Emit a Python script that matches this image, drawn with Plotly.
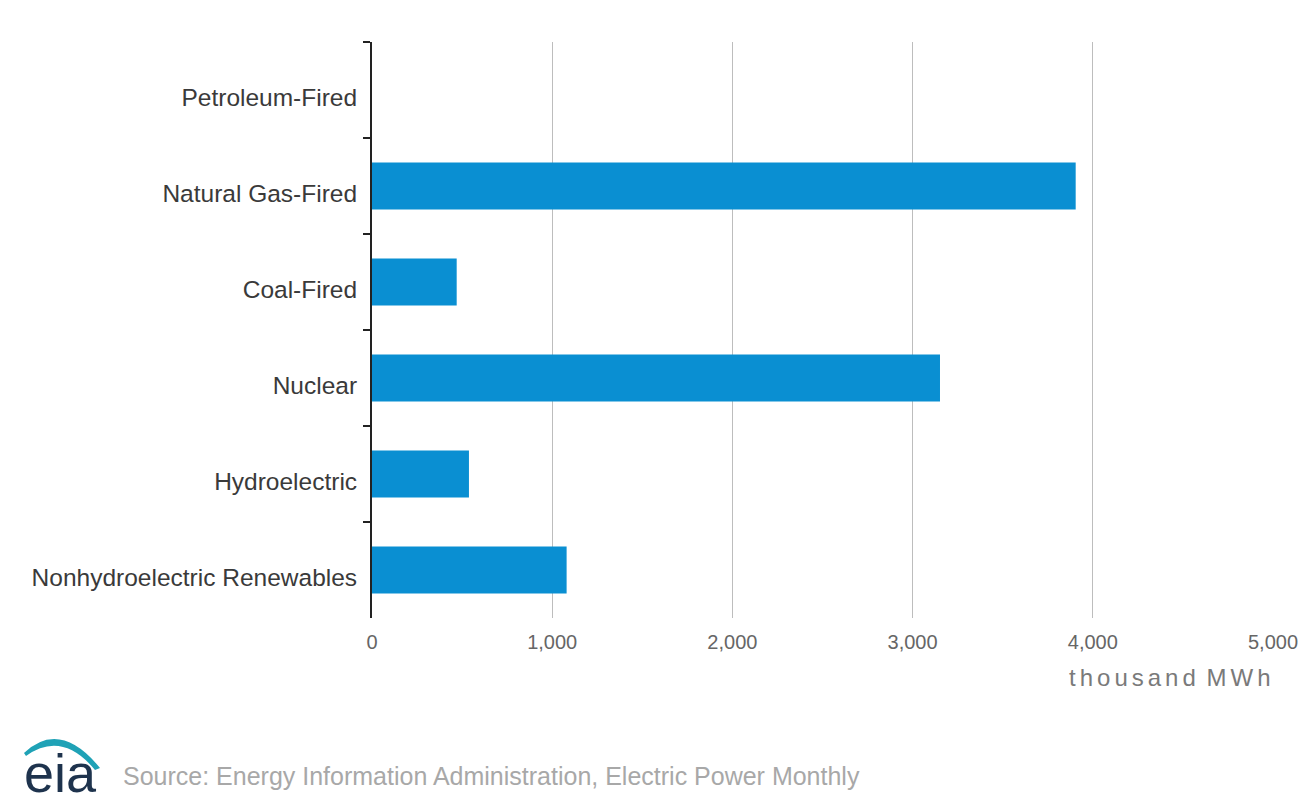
import plotly.graph_objects as go

categories = ["Petroleum-Fired", "Natural Gas-Fired", "Coal-Fired", "Nuclear",
              "Hydroelectric", "Nonhydroelectric Renewables"]
values = [0, 3905, 470, 3152, 538, 1080]
x_tickvals = [0, 1000, 2000, 3000, 4000, 5000]
x_ticktext = ["0", "1,000", "2,000", "3,000", "4,000", "5,000"]

W, H = 1314, 808
L, R, T, B = 372, 41, 42, 190
PW, PH = W - L - R, H - T - B


def px(x):
    return (x - L) / PW


def py(y):
    return (H - B - y) / PH


fig = go.Figure()
fig.add_trace(go.Bar(
    y=categories, x=values, orientation="h",
    marker=dict(color="#0a8fd2", line=dict(width=0)),
    showlegend=False,
))

fig.update_layout(
    width=W, height=H,
    margin=dict(l=L, r=R, t=T, b=B, pad=0),
    paper_bgcolor="white", plot_bgcolor="white",
    bargap=0.51,
    font=dict(family="Liberation Sans, Arial, sans-serif"),
    xaxis=dict(
        range=[0, 5000], tickvals=x_tickvals, ticktext=x_ticktext,
        showgrid=True, gridcolor="#bdbdbd", gridwidth=1,
        zeroline=False, showline=False, ticks="",
        tickfont=dict(size=20, color="#666666"),
        ticklabelstandoff=10,
    ),
    yaxis=dict(
        autorange="reversed", showgrid=False, zeroline=False,
        showline=True, linecolor="#222222", linewidth=2,
        ticks="outside", tickson="boundaries", ticklen=7, tickwidth=2,
        tickcolor="#222222",
        tickfont=dict(size=24.5, color="#3a3a3a"),
        ticklabelstandoff=8,
        ticklabelshift=-7,
    ),
)

sp = "\u200a\u200a"
spaced = sp.join("thousand") + " " + sp + sp.join("MWh")
fig.add_annotation(
    text=spaced, xref="paper", yref="paper",
    x=1.0, y=py(677), xanchor="right", yanchor="middle",
    showarrow=False, font=dict(size=24, color="#7a7a7a"),
)

# logo
fig.add_shape(
    type="path", xref="paper", yref="paper",
    path=(f"M {px(24)},{py(753)} Q {px(60)},{py(719)} {px(100)},{py(768)} "
          f"L {px(95)},{py(770)} Q {px(62)},{py(730)} {px(26)},{py(756)} Z"),
    fillcolor="#1fa2b6", line=dict(width=0),
)
fig.add_annotation(
    text="eia", xref="paper", yref="paper",
    x=px(22), y=py(773), xanchor="left", yanchor="middle",
    showarrow=False, font=dict(size=54, color="#1e334d"),
)
fig.add_annotation(
    text="Source: Energy Information Administration, Electric Power Monthly",
    xref="paper", yref="paper",
    x=px(121), y=py(776), xanchor="left", yanchor="middle",
    showarrow=False, font=dict(size=25, color="#a8a8a8"),
)

fig.write_html("out.html")
